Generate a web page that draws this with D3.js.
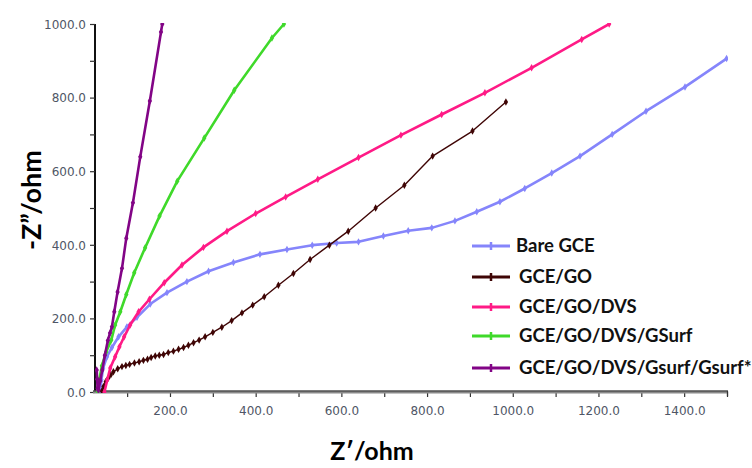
<!DOCTYPE html>
<html lang="en">
<head>
  <meta charset="UTF-8">
  <title>Nyquist plot</title>
  <script src="https://d3js.org/d3.v7.min.js"></script>
  <style>
    html, body { margin: 0; padding: 0; background: #fff; overflow: hidden; }
    svg { display: block; }
    .tick text { font-family: "DejaVu Sans", sans-serif; font-size: 12px; fill: #4f5666; }
  </style>
</head>
<body>
<div id="chart"></div>
<script>
  // Nyquist data, [Z' , -Z''] in ohm
  const bareGCE = [[37,0],[40,33],[44,65],[53,96],[64.5,121],[80,150],[99.5,177],[123,203],[154,239],[193,270],
    [239.5,300],[290,328],[348,352],[410,374],[473,387],[532,399],[589,405],[640,408],[698,424],[756,438],
    [811,446],[865,465],[916,490],[970,517],[1028,553],[1091,595],[1157,641],[1232,700],[1311,763],[1402,829],[1499,906]];
  const gceGO = [[41,3],[45,15],[50,28],[56,38],[62,47],[68,55],[78,63],[88,69],[97,72],[105.7,75],[117,79],
    [128,82],[138,86],[147.6,89],[156,94],[165.6,98],[175,100],[185,102],[196,107],[208,111],[220,116],
    [231.6,121],[243,127],[255,134],[268,141],[282,150],[300,162],[321,176],[344,194],[368,215],[393,236],
    [420,259],[453,290],[488,322],[527,360],[572,399],[616,437],[680,500],[747,562],[813,641],[906,709],[984,788]];
  const gceGODVS = [[47,0],[53.6,33],[60.6,65],[72,96],[82,123],[93,150],[107,182],[126.7,218],[152,252],
    [186.6,297],[228,345],[278,393],[333,437],[400,485],[470,530],[545,578],[640,637],[739,698],[834,754],
    [935,813],[1044,881],[1161,958],[1225,1000]];
  const gceGSurf = [[32,0],[35,33],[41,71],[51,109],[63,141],[72,182],[84,218],[98,265],[116.6,324],[142,392],
    [175.6,478],[217,573],[280,690],[350,820],[438,962],[466,1000]];
  const gceGsurfStar = [[29,60],[30,35],[31,10],[33,5],[37,30],[42,60],[48,100],[55,140],[60,160],[64.5,177],
    [70,218],[77.7,272],[88,336],[98,418],[113.5,514],[130.6,639],[153,791],[179,978],[182,1000]];

  const seriesNames = ["Bare GCE", "GCE/GO", "GCE/GO/DVS", "GCE/GO/DVS/GSurf", "GCE/GO/DVS/Gsurf/Gsurf*"];
  const seriesData = [bareGCE, gceGO, gceGODVS, gceGSurf, gceGsurfStar];
  const seriesColors = ["#8585fb", "#3f0505", "#ff1a86", "#3fd92a", "#820486"];
  const seriesWidths = [2.6, 1.4, 2.6, 2.6, 2.6];

  const xTicks = d3.range(100, 1501, 100);
  const yTicks = d3.range(0, 1001, 100);

  const width = 752, height = 468;
  const svg = d3.select("#chart").append("svg")
    .attr("width", width).attr("height", height);

  const x = d3.scaleLinear().domain([25, 1500]).range([95, 727]);
  const y = d3.scaleLinear().domain([0, 1000]).range([392, 24]);

  svg.append("clipPath").attr("id", "plotClip")
    .append("rect").attr("x", 95).attr("y", 23).attr("width", 633).attr("height", 370);

  // y axis
  const yAxis = svg.append("g").attr("transform", "translate(95,0)")
    .call(d3.axisLeft(y).tickValues(yTicks).tickSize(5).tickPadding(4)
      .tickFormat(d => d % 200 === 0 ? d3.format(".1f")(d) : ""));
  yAxis.select(".domain").attr("stroke", "#111").attr("stroke-width", 2).attr("d", "M0,24V392");
  yAxis.selectAll(".tick line").attr("stroke", "#333").attr("stroke-width", 1.2);
  yAxis.selectAll(".tick text").attr("dy", "0.35em");

  // x axis
  const xAxis = svg.append("g").attr("transform", "translate(0,392)")
    .call(d3.axisBottom(x).tickValues(xTicks).tickSize(5).tickPadding(9)
      .tickFormat(d => d % 200 === 0 ? d3.format(".1f")(d) : ""));
  xAxis.select(".domain").remove();
  xAxis.append("line").attr("x1", 93).attr("x2", 728).attr("y1", 0).attr("y2", 0)
    .attr("stroke", "#8a8a8a").attr("stroke-width", 3);
  xAxis.append("line").attr("x1", 93).attr("x2", 728).attr("y1", -1).attr("y2", -1)
    .attr("stroke", "#333").attr("stroke-width", 1);
  xAxis.append("line").attr("x1", 727.5).attr("x2", 727.5).attr("y1", -1).attr("y2", 4)
    .attr("stroke", "#333").attr("stroke-width", 1.2);
  xAxis.selectAll(".tick line").attr("stroke", "#333").attr("stroke-width", 1.2);

  // curves
  const lineXY = d3.line().x(d => x(d[0])).y(d => y(d[1]));
  const plot = svg.append("g").attr("clip-path", "url(#plotClip)");
  const diamond = d3.symbol().type(d3.symbolDiamond).size(16);

  seriesData.forEach((data, i) => {
    plot.append("path")
      .attr("d", lineXY(data))
      .attr("fill", "none")
      .attr("stroke", seriesColors[i])
      .attr("stroke-width", seriesWidths[i])
      .attr("stroke-linejoin", "round");
    plot.selectAll(null).data(data).enter().append("path")
      .attr("d", diamond)
      .attr("transform", d => `translate(${x(d[0])},${y(d[1])})`)
      .attr("fill", seriesColors[i]);
  });

  // legend
  const legendY = [246, 277, 307, 336, 368];
  const legend = svg.append("g");
  seriesNames.forEach((name, i) => {
    const g = legend.append("g").attr("transform", `translate(472,${legendY[i]})`);
    g.append("line").attr("x1", 0).attr("x2", 38)
      .attr("stroke", seriesColors[i]).attr("stroke-width", 3);
    g.append("line").attr("x1", 19).attr("x2", 19).attr("y1", -4).attr("y2", 4)
      .attr("stroke", seriesColors[i]).attr("stroke-width", 2.5);
    g.append("text").attr("x", i === 0 ? 44 : 47).attr("y", 0).attr("dy", "0.35em")
      .attr("font-family", "Lato, 'Open Sans', sans-serif").attr("font-weight", "bold")
      .attr("font-size", 18.5).attr("fill", "#111").text(name);
  });

  // axis titles
  svg.append("text").attr("transform", "translate(41,200) rotate(-90)")
    .attr("text-anchor", "middle")
    .attr("font-family", "Lato, 'Open Sans', sans-serif").attr("font-weight", "bold")
    .attr("font-size", 27).attr("fill", "#000").text("-Z\u201D/ohm");
  svg.append("text").attr("x", 372).attr("y", 460)
    .attr("text-anchor", "middle")
    .attr("font-family", "Lato, 'Open Sans', sans-serif").attr("font-weight", "bold")
    .attr("font-size", 25).attr("fill", "#000").text("Z\u2032/ohm");
</script>
</body>
</html>
